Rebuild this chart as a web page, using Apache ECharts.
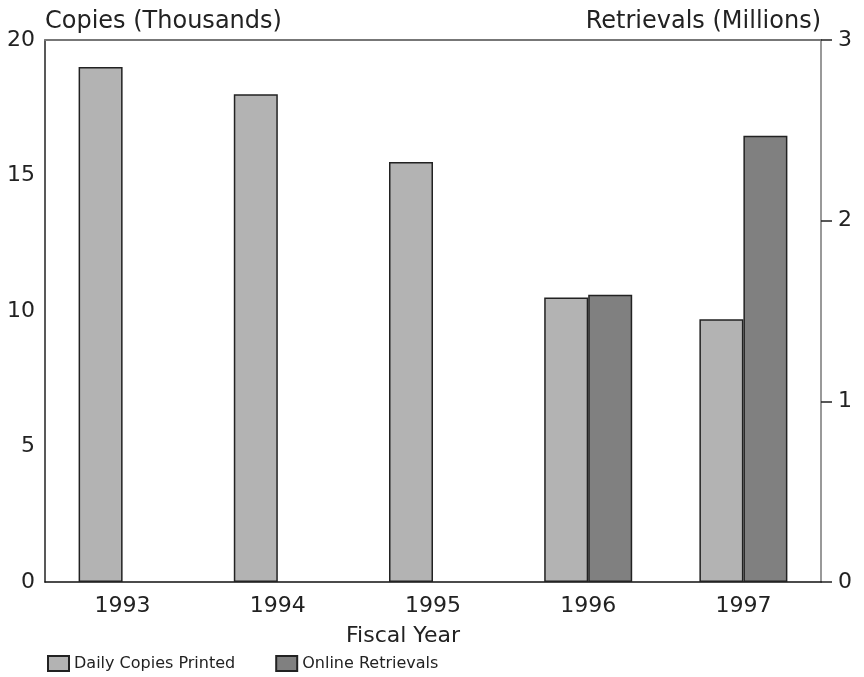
<!DOCTYPE html>
<html>
<head>
<meta charset="utf-8">
<script src="https://cdn.jsdelivr.net/npm/echarts@6/dist/echarts.min.js"></script>
<style>
    html, body { margin: 0; padding: 0; background: #fff; }
    #chart { width: 864px; height: 677px; }
</style>
</head>
<body>
<div id="chart"></div>
<script>
var years = ['1993', '1994', '1995', '1996', '1997'];
var dailyCopies = [19.0, 18.0, 15.5, 10.5, 9.7];        // thousands
var onlineRetrievals = [null, null, null, 1.59, 2.47]; // millions
var leftTicks = [0, 20, 5];   // min, max, interval
var rightTicks = [0, 3, 1];

(function () {
    var myChart = echarts.init(document.getElementById('chart'));
    var font = '"DejaVu Sans", sans-serif';

    var option = {
        animation: false,
        textStyle: { fontFamily: font },
        legend: {
            left: 42,
            top: 650,
            itemWidth: 21,
            itemHeight: 15,
            itemGap: 40,
            icon: 'rect',
            textStyle: { fontSize: 16, color: '#222', fontFamily: font },
            data: ['Daily Copies Printed', 'Online Retrievals']
        },
        grid: {
            left: 45,
            right: 43,
            top: 40,
            bottom: 95
        },
        xAxis: [
            {
                type: 'category',
                data: years,
                position: 'bottom',
                axisTick: { show: false },
                axisLine: { lineStyle: { color: '#111', width: 1.5 } },
                axisLabel: { color: '#222', fontSize: 22, margin: 13 },
                name: 'Fiscal Year',
                nameLocation: 'middle',
                nameGap: 43,
                nameTextStyle: { color: '#222', fontSize: 22, padding: [0, 60, 0, 0] }
            },
            {
                type: 'category',
                data: years,
                position: 'top',
                axisTick: { show: false },
                axisLabel: { show: false },
                axisLine: { onZero: false, lineStyle: { color: '#777', width: 2 } }
            }
        ],
        yAxis: [
            {
                type: 'value',
                min: leftTicks[0],
                max: leftTicks[1],
                interval: leftTicks[2],
                position: 'left',
                axisLine: { show: true, onZero: false, lineStyle: { color: '#222', width: 1.5 } },
                axisTick: { show: false },
                splitLine: { show: false },
                axisLabel: { color: '#222', fontSize: 22, margin: 10 },
                name: 'Copies (Thousands)',
                nameLocation: 'end',
                nameGap: 6,
                nameTextStyle: { color: '#222', fontSize: 24, align: 'left' }
            },
            {
                type: 'value',
                min: rightTicks[0],
                max: rightTicks[1],
                interval: rightTicks[2],
                position: 'right',
                axisLine: { show: true, onZero: false, lineStyle: { color: '#777', width: 1.5 } },
                axisTick: { show: true, length: 11, lineStyle: { color: '#222', width: 1.5 } },
                splitLine: { show: false },
                axisLabel: { color: '#222', fontSize: 22, margin: 17 },
                name: 'Retrievals (Millions)',
                nameLocation: 'end',
                nameGap: 6,
                nameTextStyle: { color: '#222', fontSize: 24, align: 'right' }
            }
        ],
        series: [
            {
                name: 'Daily Copies Printed',
                type: 'bar',
                xAxisIndex: 0,
                yAxisIndex: 0,
                barWidth: 44,
                barGap: '0%',
                data: dailyCopies,
                itemStyle: { color: '#b3b3b3', borderColor: '#222', borderWidth: 1.5 }
            },
            {
                name: 'Online Retrievals',
                type: 'bar',
                xAxisIndex: 0,
                yAxisIndex: 1,
                barWidth: 44,
                barGap: '0%',
                data: onlineRetrievals,
                itemStyle: { color: '#808080', borderColor: '#222', borderWidth: 1.5 }
            }
        ]
    };

    myChart.setOption(option);
})();
</script>
</body>
</html>
